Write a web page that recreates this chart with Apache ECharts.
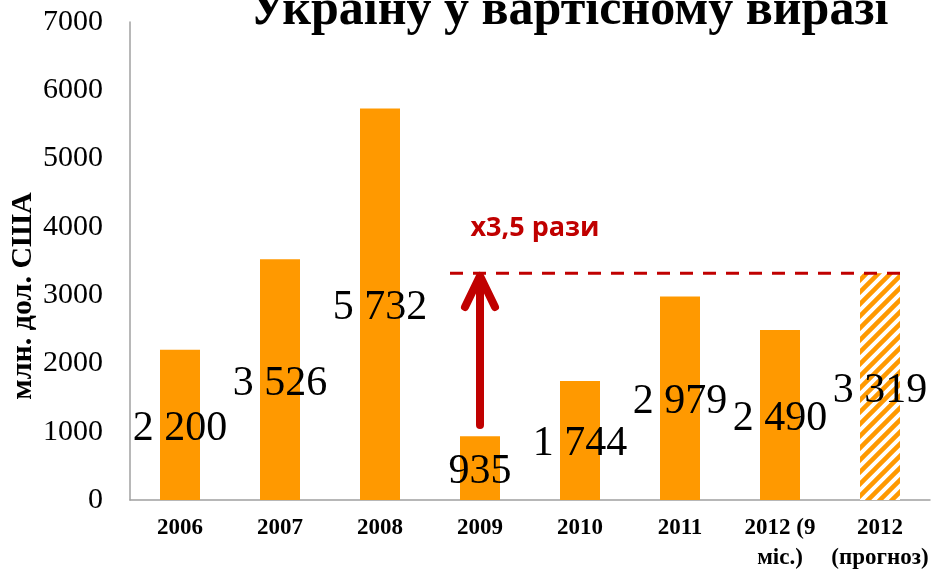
<!DOCTYPE html>
<html>
<head>
<meta charset="utf-8">
<script src="https://cdn.jsdelivr.net/npm/echarts@6/dist/echarts.min.js"></script>
<style>
  html, body { margin: 0; padding: 0; background: #fff; }
  #chart { width: 932px; height: 569px; }
</style>
</head>
<body>
<div id="chart"></div>
<script>
// дані
const categories = ['2006', '2007', '2008', '2009', '2010', '2011', '2012 (9\nміс.)', '2012\n(прогноз)']
const values = [2200, 3526, 5732, 935, 1744, 2979, 2490, 3319]
const forecastIndex = 7
const yTicks = { min: 0, max: 7000, interval: 1000 }
// пунктир рівня прогнозу (x в індексах категорій)
const levelLine = [[2.7, 3319], [7.23, 3319]]
// стрілка: індекс, від, до
const arrow = [3, 1100, 3280]
const note = { text: 'x3,5 рази', x: 3.55, y: 3980 }

const ORANGE = '#FF9900'
const RED = '#C00000'

// штрихування для прогнозного стовпця
function hatch () {
  const s = 12
  const c = document.createElement('canvas')
  c.width = s
  c.height = s
  const ctx = c.getContext('2d')
  ctx.fillStyle = '#fff'
  ctx.fillRect(0, 0, s, s)
  ctx.strokeStyle = ORANGE
  ctx.lineWidth = 4.5
  ctx.beginPath()
  ctx.moveTo(-2, s + 2); ctx.lineTo(s + 2, -2)
  ctx.moveTo(-2, 2); ctx.lineTo(2, -2)
  ctx.moveTo(s - 2, s + 2); ctx.lineTo(s + 2, s - 2)
  ctx.stroke()
  return { image: c, repeat: 'repeat' }
}

function fmt (v) {
  const s = String(v)
  return s.length > 3 ? s.slice(0, -3) + '\u00a0' + s.slice(-3) : s
}

const chart = echarts.init(document.getElementById('chart'))
const serif = '"Liberation Serif", "Times New Roman", serif'

const barData = values.map((v, i) => i === forecastIndex
  ? { value: v, itemStyle: { color: hatch() } }
  : v)

chart.setOption({
  animation: false,
  title: {
    text: 'Україну у вартісному виразі',
    left: 564,
    textAlign: 'center',
    top: -19,
    textStyle: { fontFamily: serif, fontWeight: 'bold', fontSize: 50, color: '#000', lineHeight: 50 }
  },
  grid: { left: 130, right: 2, top: 22, bottom: 69, outerBoundsMode: 'none', containLabel: false },
  xAxis: [
    {
      type: 'category',
      data: categories,
      axisLine: { lineStyle: { color: '#A0A0A0', width: 1.5 } },
      axisTick: { show: false },
      axisLabel: {
        interval: 0,
        margin: 13,
        fontFamily: serif,
        fontWeight: 'bold',
        fontSize: 23,
        lineHeight: 30,
        color: '#000'
      }
    },
    { type: 'value', min: -0.5, max: 7.5, show: false }
  ],
  yAxis: {
    type: 'value',
    min: yTicks.min,
    max: yTicks.max,
    interval: yTicks.interval,
    name: 'млн. дол. США',
    nameLocation: 'middle',
    nameRotate: 90,
    nameGap: 92,
    nameMoveOverlap: false,
    nameTextStyle: { fontFamily: serif, fontWeight: 'bold', fontSize: 30, color: '#000', padding: [0, 70, 0, 0] },
    axisLine: { show: true, onZero: false, lineStyle: { color: '#A0A0A0', width: 1.5 } },
    axisTick: { show: false },
    splitLine: { show: false },
    axisLabel: { margin: 27, fontFamily: serif, fontSize: 30, color: '#000', formatter: v => String(v) }
  },
  series: [
    {
      type: 'bar',
      data: barData,
      barWidth: 40,
      itemStyle: { color: ORANGE },
      label: {
        show: true,
        position: 'inside',
        offset: [0, 4],
        fontFamily: serif,
        fontSize: 42,
        color: '#000',
        formatter: p => fmt(p.value)
      },
      z: 2
    },
    {
      type: 'line',
      xAxisIndex: 1,
      data: levelLine,
      symbol: 'none',
      lineStyle: { color: RED, width: 3, type: [13, 10] },
      z: 3
    },
    {
      type: 'custom',
      xAxisIndex: 1,
      data: [arrow],
      z: 4,
      renderItem: (params, api) => {
        const from = api.coord([api.value(0), api.value(1)])
        const tip = api.coord([api.value(0), api.value(2)])
        const txt = api.coord([note.x, note.y])
        const st = { stroke: RED, lineWidth: 8, lineCap: 'round', lineJoin: 'round', fill: null }
        return {
          type: 'group',
          children: [
            { type: 'line', shape: { x1: from[0], y1: from[1], x2: tip[0], y2: tip[1] + 3 }, style: st },
            { type: 'polyline', shape: { points: [[tip[0] - 15, tip[1] + 31], tip, [tip[0] + 15, tip[1] + 31]] }, style: st },
            {
              type: 'text',
              x: txt[0],
              y: txt[1],
              style: {
                text: note.text,
                align: 'center',
                verticalAlign: 'middle',
                fill: RED,
                fontFamily: '"Open Sans", "Noto Sans", sans-serif',
                fontWeight: 'bold',
                fontSize: 27
              }
            }
          ]
        }
      }
    }
  ]
})
</script>
</body>
</html>
